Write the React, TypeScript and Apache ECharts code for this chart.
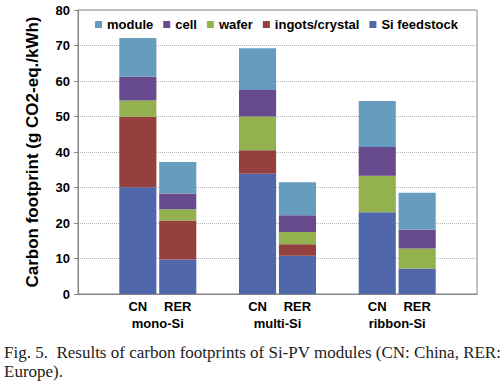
import React, { useEffect, useRef } from "react";
import * as echarts from "echarts";

const slots = ["", "CN", "RER", "", "CN", "RER", "", "CN", "RER", ""];
const groupLabels: Record<number, string> = { 2: "mono-Si", 5: "multi-Si", 8: "ribbon-Si" };

// values per slot (null = empty slot)
const siFeedstock = [null, 30.1, 9.7, null, 33.9, 10.8, null, 23.0, 7.2, null];
const ingots = [null, 19.8, 11.0, null, 6.6, 3.2, null, 0, 0, null];
const wafer = [null, 4.6, 3.2, null, 9.5, 3.5, null, 10.3, 5.6, null];
const cell = [null, 6.7, 4.4, null, 7.5, 4.7, null, 8.1, 5.3, null];
const moduleV = [null, 10.9, 8.9, null, 11.7, 9.3, null, 13.0, 10.4, null];

const legendOrder = ["module", "cell", "wafer", "ingots/crystal", "Si feedstock"];
const caption = "Fig. 5.  Results of carbon footprints of Si-PV modules (CN: China, RER:\nEurope).";

const FONT = "Liberation Sans, Arial, sans-serif";

export default function App() {
  const ref = useRef<HTMLDivElement>(null);
  useEffect(() => {
    if (!ref.current) return;
    const chart = echarts.init(ref.current, undefined, { renderer: "svg" });
    const mk = (name: string, data: (number | null)[], color: string) => ({
      name,
      type: "bar",
      stack: "total",
      data,
      barCategoryGap: "7%",
      itemStyle: { color },
    });
    chart.setOption({
      animation: false,
      backgroundColor: "#ffffff",
      textStyle: { fontFamily: FONT },
      grid: {
        left: 78,
        right: 23,
        top: 10,
        bottom: 91,
        show: true,
        borderColor: "#868686",
        borderWidth: 1,
      },
      legend: {
        data: legendOrder,
        top: 13,
        left: 90,
        itemWidth: 7,
        itemHeight: 7,
        itemGap: 10,
        icon: "rect",
        textStyle: { fontFamily: FONT, fontWeight: "bold", fontSize: 13, color: "#000" },
      },
      xAxis: [
        {
          type: "category",
          data: slots,
          axisLine: { lineStyle: { color: "#868686" } },
          axisTick: { show: false },
          axisLabel: {
            interval: 0,
            margin: 6,
            color: "#000",
            fontWeight: "bold",
            fontSize: 13,
            fontFamily: FONT,
          },
        },
        {
          type: "value",
          position: "bottom",
          min: 0,
          max: 10,
          interval: 1,
          offset: 18,
          axisLine: { show: false },
          axisTick: { show: false },
          splitLine: { show: false },
          axisLabel: {
            margin: 5,
            color: "#000",
            fontWeight: "bold",
            fontSize: 13,
            fontFamily: FONT,
            showMinLabel: true,
            showMaxLabel: true,
            formatter: (v: number) => groupLabels[Math.round(v)] || "",
          },
        },
      ],
      yAxis: {
        type: "value",
        min: 0,
        max: 80,
        interval: 10,
        name: "Carbon footprint (g CO2-eq./kWh)",
        nameLocation: "middle",
        nameGap: 37,
        nameTextStyle: { fontFamily: FONT, fontWeight: "bold", fontSize: 17, color: "#000" },
        axisLine: { show: true, lineStyle: { color: "#868686" } },
        axisTick: { show: true, length: 4, lineStyle: { color: "#868686" } },
        axisLabel: { color: "#000", fontWeight: "bold", fontSize: 13, fontFamily: FONT, margin: 8 },
        splitLine: { lineStyle: { color: "#b4b4b4", type: "dotted", width: 1 } },
      },
      series: [
        mk("Si feedstock", siFeedstock, "#5068AB"),
        mk("ingots/crystal", ingots, "#94403F"),
        mk("wafer", wafer, "#94B14F"),
        mk("cell", cell, "#684A8E"),
        mk("module", moduleV, "#669CBD"),
      ],
      graphic: [
        {
          type: "text",
          left: 4,
          top: 343,
          style: {
            text: caption,
            font: "17px 'Liberation Serif', 'Times New Roman', serif",
            lineHeight: 19,
            fill: "#222",
          },
        },
      ],
    });
    return () => chart.dispose();
  }, []);
  return (
    <div style={{ position: "fixed", left: 0, top: 0, width: 500, height: 385, background: "#fff" }}>
      <div ref={ref} style={{ width: 500, height: 385 }} />
    </div>
  );
}
